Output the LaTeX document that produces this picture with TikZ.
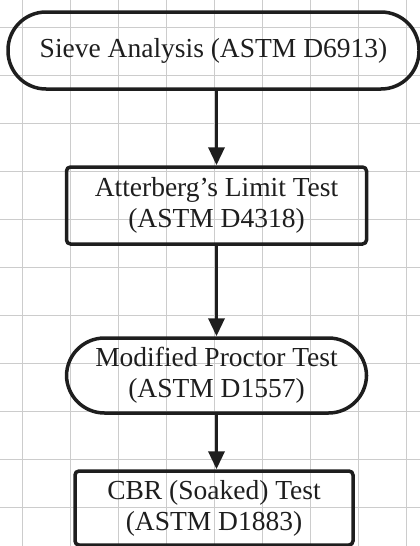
\documentclass[tikz,border=0pt]{standalone}
\usepackage{fontspec}
\setmainfont{Liberation Serif}
\usetikzlibrary{arrows.meta}
\definecolor{gridgray}{HTML}{CCCCCC}
\definecolor{inkblack}{HTML}{1E1E1E}
\begin{document}
\begin{tikzpicture}[x=1pt, y=-1pt,
  stadium/.style={draw=inkblack, line width=3.5pt, rounded corners=38pt, inner sep=0pt,
    align=center, text=inkblack, font=\fontsize{27.5}{31}\selectfont},
  testbox/.style={draw=inkblack, line width=3.5pt, rounded corners=4pt, inner sep=0pt,
    align=center, text=inkblack, font=\fontsize{27.5}{31}\selectfont},
  flow/.style={draw=inkblack, line width=3.5pt, -{Triangle[length=18pt, width=16pt]}}]
\useasboundingbox (0,0) rectangle (420,546);
% grid
\foreach \gx in {0,...,8}
  \draw [gridgray, line width=1pt] (22.7+48*\gx,0) -- (22.7+48*\gx,546);
\foreach \gy in {0,...,10}
  \draw [gridgray, line width=1pt] (0,27.5+48*\gy) -- (420,27.5+48*\gy);
% steps
\node [stadium, minimum width=411pt, minimum height=77pt] (sieve) at (213.5,50.5) {Sieve Analysis (ASTM D6913)};
\node [testbox, minimum width=300pt, minimum height=77pt] (atterberg) at (216.5,205.5) {Atterberg’s Limit Test\\(ASTM D4318)};
\node [stadium, minimum width=300pt, minimum height=75pt] (proctor) at (216.5,375.5) {Modified Proctor Test\\(ASTM D1557)};
\node [testbox, minimum width=278pt, minimum height=74pt] (cbr) at (214,508) {CBR (Soaked) Test\\(ASTM D1883)};
% arrows
\draw [flow] (sieve.south -| atterberg.north) -- (atterberg.north);
\draw [flow] (atterberg.south) -- (proctor.north);
\draw [flow] (proctor.south) -- (proctor.south |- cbr.north);
\end{tikzpicture}
\end{document}
